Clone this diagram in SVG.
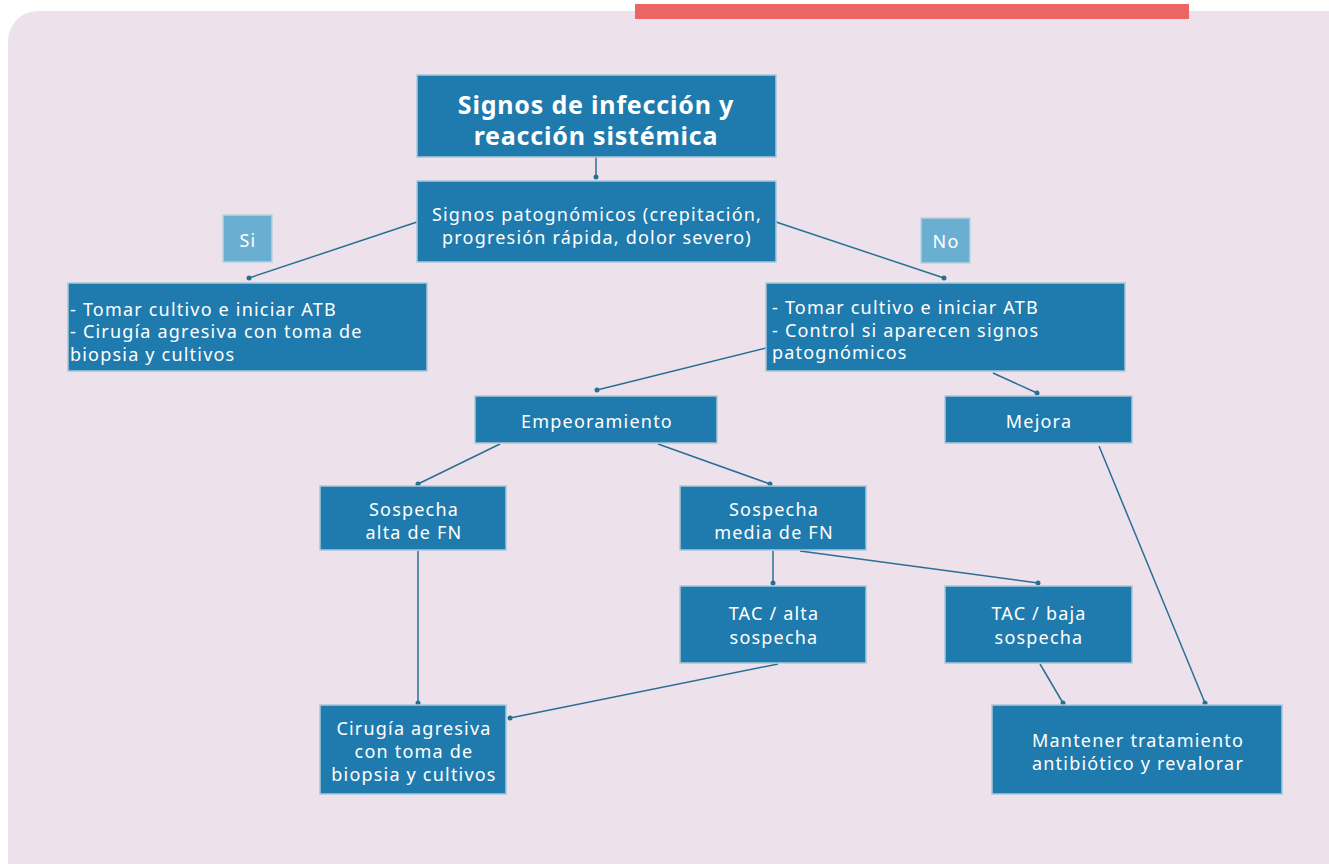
<svg xmlns="http://www.w3.org/2000/svg" width="1329" height="864" viewBox="0 0 1329 864">
<style>
.box{fill:#1f7bad;stroke:#a9c8d8;stroke-width:1.5}
.lbl{fill:#6aaed2;stroke:#b9d3e0;stroke-width:1.5}
.t{font-family:"Noto Sans","Open Sans",sans-serif;font-size:18px;letter-spacing:1.2px;fill:#ffffff;text-anchor:middle}
.tl{font-family:"Noto Sans","Open Sans",sans-serif;font-size:18px;letter-spacing:1.2px;fill:#ffffff}
.tb{font-family:"Noto Sans","Open Sans",sans-serif;font-size:25px;letter-spacing:0.8px;font-weight:bold;fill:#ffffff;text-anchor:middle}
.c{stroke:#2a6f93;stroke-width:1.5;fill:none}
.d{fill:#2a6f93}
</style>
<rect x="0" y="0" width="1329" height="864" fill="#ffffff"/>
<rect x="8" y="11" width="1350" height="900" rx="30" fill="#ede2ec"/>
<rect x="635" y="4" width="554" height="15" fill="#ec6464"/>

<g id="connectors">
<line class="c" x1="596" y1="157" x2="596" y2="177"/><circle class="d" cx="596" cy="177" r="2.5"/>
<line class="c" x1="417" y1="222" x2="249" y2="278"/><circle class="d" cx="249" cy="278" r="2.5"/>
<line class="c" x1="776" y1="222" x2="944" y2="278"/><circle class="d" cx="944" cy="278" r="2.5"/>
<line class="c" x1="766" y1="348" x2="597" y2="390"/><circle class="d" cx="597" cy="390" r="2.5"/>
<line class="c" x1="993" y1="373" x2="1037" y2="393"/><circle class="d" cx="1037" cy="393" r="2.5"/>
<line class="c" x1="500" y1="444" x2="418" y2="484"/><circle class="d" cx="418" cy="484" r="2.5"/>
<line class="c" x1="658" y1="444" x2="770" y2="484"/><circle class="d" cx="770" cy="484" r="2.5"/>
<line class="c" x1="418" y1="551" x2="418" y2="703"/><circle class="d" cx="418" cy="703" r="2.5"/>
<line class="c" x1="773" y1="551" x2="773" y2="583"/><circle class="d" cx="773" cy="583" r="2.5"/>
<line class="c" x1="800" y1="551" x2="1038" y2="583"/><circle class="d" cx="1038" cy="583" r="2.5"/>
<line class="c" x1="778" y1="664" x2="510" y2="718"/><circle class="d" cx="510" cy="718" r="2.5"/>
<line class="c" x1="1040" y1="664" x2="1063" y2="703"/><circle class="d" cx="1063" cy="703" r="2.5"/>
<line class="c" x1="1099" y1="446" x2="1205" y2="703"/><circle class="d" cx="1205" cy="703" r="2.5"/>
</g>

<g id="n-title"><rect class="box" x="417" y="75" width="359" height="82"/>
<text class="tb" x="596" y="114">Signos de infección y</text>
<text class="tb" x="596" y="145">reacción sistémica</text></g>

<g id="n-signos"><rect class="box" x="417" y="181" width="359" height="81"/>
<text class="t" x="597" y="221">Signos patognómicos (crepitación,</text>
<text class="t" x="597" y="244">progresión rápida, dolor severo)</text></g>

<g id="n-si"><rect class="lbl" x="223" y="215" width="49" height="47"/>
<text class="t" x="248" y="247">Si</text></g>

<g id="n-no"><rect class="lbl" x="921" y="218" width="49" height="45"/>
<text class="t" x="946" y="248">No</text></g>

<g id="n-left"><rect class="box" x="68" y="283" width="359" height="88"/>
<text class="tl" x="70" y="316">- Tomar cultivo e iniciar ATB</text>
<text class="tl" x="70" y="338">- Cirugía agresiva con toma de</text>
<text class="tl" x="70" y="361">biopsia y cultivos</text></g>

<g id="n-right"><rect class="box" x="766" y="283" width="359" height="88"/>
<text class="tl" x="772" y="314">- Tomar cultivo e iniciar ATB</text>
<text class="tl" x="772" y="337">- Control si aparecen signos</text>
<text class="tl" x="772" y="359">patognómicos</text></g>

<g id="n-empeora"><rect class="box" x="475" y="396" width="242" height="47"/>
<text class="t" x="597" y="428">Empeoramiento</text></g>

<g id="n-mejora"><rect class="box" x="945" y="396" width="187" height="47"/>
<text class="t" x="1039" y="428">Mejora</text></g>

<g id="n-alta"><rect class="box" x="320" y="486" width="186" height="64"/>
<text class="t" x="414" y="516">Sospecha</text>
<text class="t" x="414" y="539">alta de FN</text></g>

<g id="n-media"><rect class="box" x="680" y="486" width="186" height="64"/>
<text class="t" x="774" y="516">Sospecha</text>
<text class="t" x="774" y="539">media de FN</text></g>

<g id="n-tacalta"><rect class="box" x="680" y="586" width="186" height="77"/>
<text class="t" x="774" y="620">TAC / alta</text>
<text class="t" x="774" y="644">sospecha</text></g>

<g id="n-tacbaja"><rect class="box" x="945" y="586" width="187" height="77"/>
<text class="t" x="1039" y="620">TAC / baja</text>
<text class="t" x="1039" y="644">sospecha</text></g>

<g id="n-cirugia"><rect class="box" x="320" y="705" width="186" height="89"/>
<text class="t" x="414" y="735">Cirugía agresiva</text>
<text class="t" x="414" y="758">con toma de</text>
<text class="t" x="414" y="781">biopsia y cultivos</text></g>

<g id="n-mantener"><rect class="box" x="992" y="705" width="290" height="89"/>
<text class="t" x="1138" y="747">Mantener tratamiento</text>
<text class="t" x="1138" y="770">antibiótico y revalorar</text></g>
</svg>
